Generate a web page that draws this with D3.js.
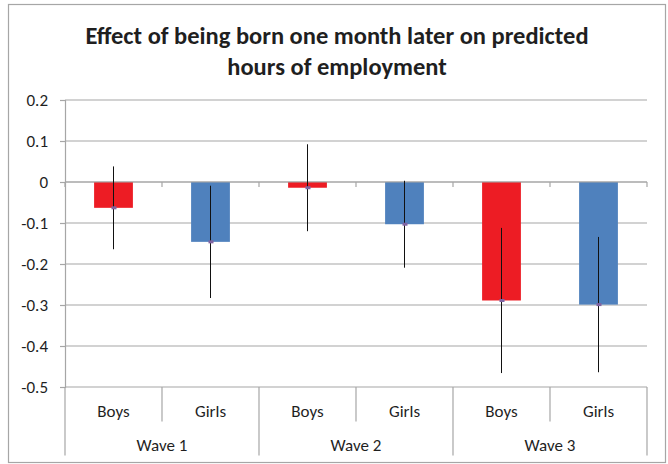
<!DOCTYPE html>
<html>
<head>
<meta charset="utf-8">
<script src="https://cdn.jsdelivr.net/npm/d3@7"></script>
<style>
  body { margin: 0; background: #fff; }
  svg { display: block; }
  text { font-family: Carlito, Lato, "Open Sans", sans-serif; fill: #1f1f1f; }
</style>
</head>
<body>
<svg id="chart"></svg>
<script>
// chart values
const waves = ['Wave 1', 'Wave 2', 'Wave 3'];
const groups = ['Boys', 'Girls'];
const effects = [-0.063, -0.146, -0.014, -0.103, -0.289, -0.299];
const errors = [0.101, 0.137, 0.106, 0.106, 0.177, 0.165];
const yTicks = [0.2, 0.1, 0, -0.1, -0.2, -0.3, -0.4, -0.5];
const titleLines = ['Effect of being born one month later on predicted', 'hours of employment'];

const w = 668, h = 464;
const plotLeft = 65, plotRight = 647, plotTop = 100, plotBottom = 387;
const grey = '#a6a6a6';
const barColors = { Boys: '#ed1c24', Girls: '#4f81bd' };

const cats = [];
waves.forEach(wv => groups.forEach(g => cats.push({ wave: wv, group: g })));
cats.forEach((c, i) => { c.value = effects[i]; c.err = errors[i]; c.key = i; });

const svg = d3.select('#chart').attr('width', w).attr('height', h);

// outer frame
svg.append('rect')
    .attr('x', 8.5).attr('y', 4.5)
    .attr('width', 657).attr('height', 458)
    .attr('fill', 'none').attr('stroke', grey).attr('stroke-width', 1.2);

const x = d3.scaleBand()
    .domain(cats.map(c => c.key))
    .range([plotLeft, plotRight])
    .paddingInner(0.6)
    .paddingOuter(0.3);

const y = d3.scaleLinear()
    .domain([-0.5, 0.2])
    .range([plotBottom, plotTop]);

const step = x.step();
const catLeft = k => x(k) - x.paddingOuter() * step;

// gridlines
svg.append('g')
  .selectAll('line')
  .data(yTicks)
  .join('line')
    .attr('x1', plotLeft).attr('x2', plotRight)
    .attr('y1', d => y(d)).attr('y2', d => y(d))
    .attr('stroke', grey).attr('stroke-width', 1.2);

// y axis
const yAxis = d3.axisLeft(y)
    .tickValues(yTicks)
    .tickSize(5)
    .tickPadding(12)
    .tickFormat(d => String(d));

svg.append('g')
    .attr('transform', 'translate(' + plotLeft + ',0)')
    .call(yAxis)
    .call(g => g.selectAll('line, path').attr('stroke', grey).attr('stroke-width', 1.2))
    .call(g => g.selectAll('text').attr('font-size', 17).style('font-family', 'Carlito, Lato, sans-serif').attr('fill', '#1f1f1f'));

// bars
svg.append('g')
  .selectAll('rect')
  .data(cats)
  .join('rect')
    .attr('x', d => x(d.key))
    .attr('width', x.bandwidth())
    .attr('y', d => y(Math.max(0, d.value)))
    .attr('height', d => Math.abs(y(d.value) - y(0)))
    .attr('fill', d => barColors[d.group]);

// zero line with category tick marks
svg.append('line')
    .attr('x1', plotLeft).attr('x2', plotRight)
    .attr('y1', y(0)).attr('y2', y(0))
    .attr('stroke', grey).attr('stroke-width', 1.2);

svg.append('g')
  .selectAll('line')
  .data(d3.range(cats.length + 1))
  .join('line')
    .attr('x1', i => plotLeft + i * step).attr('x2', i => plotLeft + i * step)
    .attr('y1', y(0)).attr('y2', y(0) + 5)
    .attr('stroke', grey).attr('stroke-width', 1.2);

// error bars
svg.append('g')
  .selectAll('line')
  .data(cats)
  .join('line')
    .attr('x1', d => x(d.key) + x.bandwidth() / 2)
    .attr('x2', d => x(d.key) + x.bandwidth() / 2)
    .attr('y1', d => y(d.value + d.err))
    .attr('y2', d => y(d.value - d.err))
    .attr('stroke', '#111').attr('stroke-width', 1);

// point markers
svg.append('g')
  .selectAll('rect')
  .data(cats)
  .join('rect')
    .attr('x', d => x(d.key) + x.bandwidth() / 2 - 2)
    .attr('y', d => y(d.value) - 1.5)
    .attr('width', 5).attr('height', 3)
    .attr('fill', '#8064a2');

// multi-level category axis
const lab = svg.append('g');
d3.range(cats.length + 1).forEach(i => {
  const xx = plotLeft + i * step;
  const outer = i % groups.length === 0;
  lab.append('line')
      .attr('x1', xx).attr('x2', xx)
      .attr('y1', plotBottom).attr('y2', outer ? 455.5 : 421.5)
      .attr('stroke', grey).attr('stroke-width', 1.2);
});

lab.selectAll('text.group')
  .data(cats)
  .join('text')
    .attr('class', 'group')
    .attr('x', d => catLeft(d.key) + step / 2)
    .attr('y', 417)
    .attr('text-anchor', 'middle')
    .attr('font-size', 17)
    .text(d => d.group);

lab.selectAll('text.wave')
  .data(waves)
  .join('text')
    .attr('class', 'wave')
    .attr('x', (d, i) => plotLeft + (i + 0.5) * step * groups.length)
    .attr('y', 451)
    .attr('text-anchor', 'middle')
    .attr('font-size', 17)
    .text(d => d);

// title
svg.append('text')
    .attr('x', 337)
    .attr('text-anchor', 'middle')
    .attr('font-size', 24.5)
    .attr('font-weight', 'bold')
    .selectAll('tspan')
    .data(titleLines)
    .join('tspan')
      .attr('x', 337)
      .attr('y', (d, i) => 44 + i * 31)
      .text(d => d);
</script>
</body>
</html>
